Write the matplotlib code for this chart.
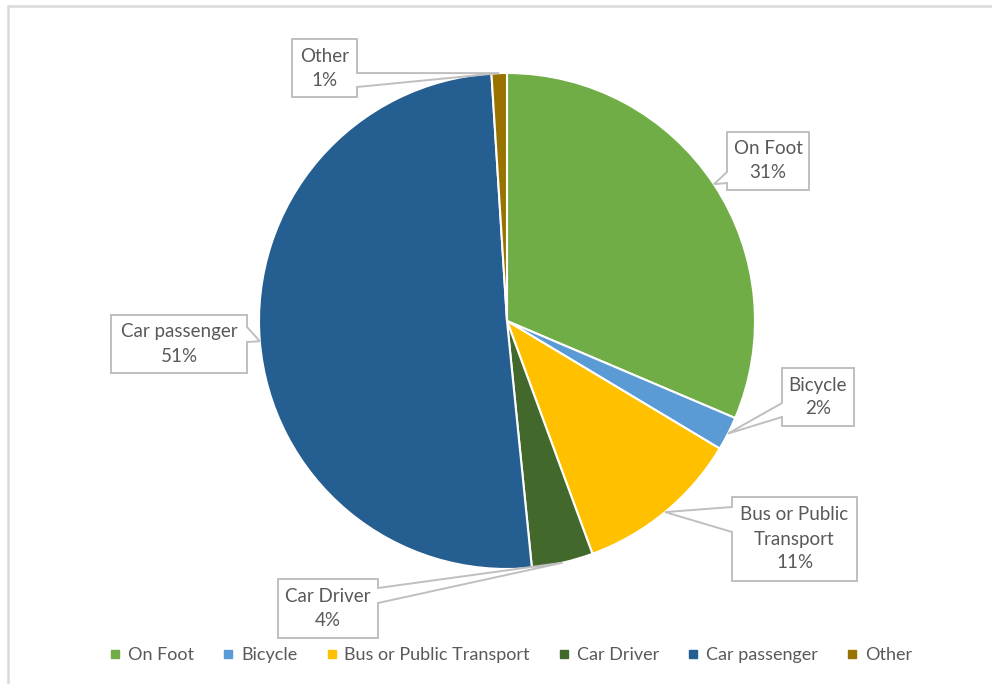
"""Camembert des modes de déplacement, avec étiquettes en bulles et légende en bas."""
import numpy as np
import matplotlib

matplotlib.use("Agg")
import matplotlib.pyplot as plt
from matplotlib.lines import Line2D
from matplotlib.patches import Polygon

plt.rcParams["font.family"] = ["Lato", "DejaVu Sans"]

W, H = 992, 684

modes = ["On Foot", "Bicycle", "Bus or Public Transport", "Car Driver", "Car passenger", "Other"]
parts = [31.4, 2.2, 10.8, 4.0, 50.6, 1.0]
couleurs = ["#70AD47", "#5B9BD5", "#FFC000", "#43682B", "#255E91", "#997300"]
textes = ["On Foot", "Bicycle", "Bus or Public\nTransport", "Car Driver", "Car passenger", "Other"]

# bulles : (x0, y0, x1, y1) en pixels depuis le haut, côté de la pointe, base de la pointe
bulles = [
    ((727, 132, 809, 190), "left", (172, 183)),
    ((782, 368, 854, 426), "left", (403, 417)),
    ((732, 497, 857, 581), "left", (507, 532)),
    ((278, 579, 378, 638), "right", (588, 603)),
    ((111, 315, 247, 373), "right", (327, 342)),
    ((292, 39, 357, 97), "right", (73, 87)),
]

GRIS_TXT = "#595959"
GRIS_BORD = "#BFBFBF"


def fy(y):
    return H - y


def contour(box, cote, base, pointe):
    x0, y0, x1, y1 = box
    b0, b1 = base
    if cote == "left":
        pts = [(x0, y0), (x1, y0), (x1, y1), (x0, y1), (x0, b1), None, (x0, b0)]
    else:
        pts = [(x0, y0), (x1, y0), (x1, b0), None, (x1, b1), (x1, y1), (x0, y1)]
    return [pointe if p is None else (p[0], fy(p[1])) for p in pts]


fig = plt.figure(figsize=(W / 100, H / 100), dpi=100)
ax = fig.add_axes([0, 0, 1, 1])

cx, cy, r = 507, fy(321), 248
wedges, _ = ax.pie(parts, colors=couleurs, startangle=90, counterclock=False,
                   center=(cx, cy), radius=r,
                   wedgeprops=dict(edgecolor="white", linewidth=1.5))

for w, p, txt, (box, cote, base) in zip(wedges, parts, textes, bulles):
    a = np.deg2rad((w.theta1 + w.theta2) / 2)
    pointe = (cx + r * np.cos(a), cy + r * np.sin(a))
    poly = Polygon(contour(box, cote, base, pointe), closed=True, facecolor="white",
                   edgecolor=GRIS_BORD, linewidth=1.4, zorder=5)
    ax.add_patch(poly)
    x0, y0, x1, y1 = box
    ax.text((x0 + x1) / 2, fy((y0 + y1) / 2), f"{txt}\n{round(p)}%", ha="center", va="center",
            fontsize=13.5, color=GRIS_TXT, linespacing=1.5, zorder=6)

# cadre du graphique (haut et gauche seulement visibles)
ax.plot([8, 8, W], [0, fy(6), fy(6)], color="#D9D9D9", lw=1.8, solid_joinstyle="miter")

ax.set_xlim(0, W)
ax.set_ylim(0, H)
ax.axis("off")

poignees = [Line2D([], [], ls="none", marker="s", markersize=6, color=c) for c in couleurs]
fig.legend(poignees, modes, loc="center", bbox_to_anchor=(510 / W, 1 - 655 / H), ncol=6,
           frameon=False, fontsize=13, labelcolor=GRIS_TXT, handlelength=0.8,
           handletextpad=0.3, columnspacing=1.5)

fig.savefig("out.png", dpi=100)
